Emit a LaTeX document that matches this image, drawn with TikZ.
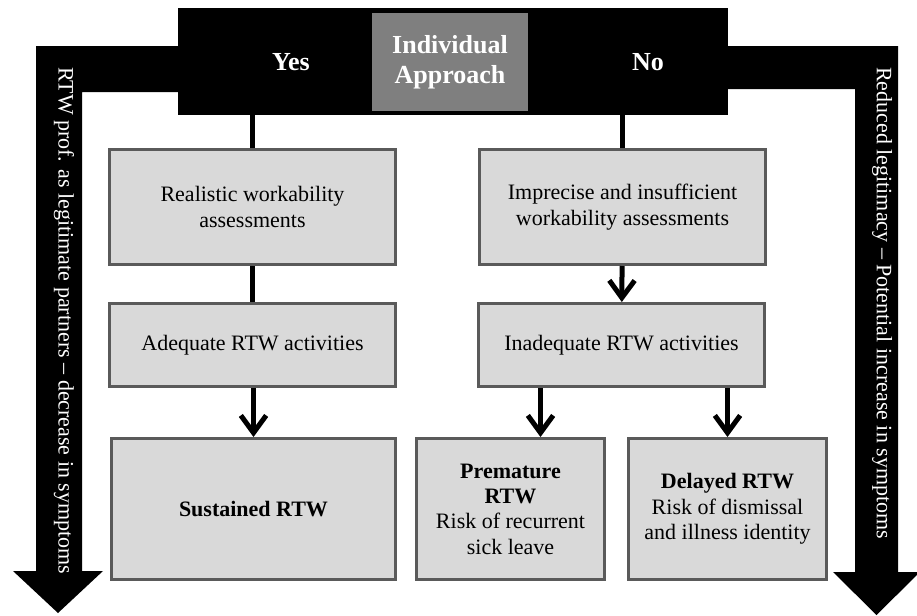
\documentclass[tikz,border=0pt]{standalone}
\usepackage{fontspec}
\setmainfont{Liberation Serif}
\usepackage{xcolor}
\usepackage{tikz}
\usetikzlibrary{arrows.meta,positioning,calc}
\definecolor{boxfill}{HTML}{D9D9D9}
\definecolor{boxline}{HTML}{5A5A5A}
\definecolor{midgray}{HTML}{7F7F7F}
\tikzset{
    every picture/.style={line join=miter},
    stagebox/.style={draw=boxline,fill=boxfill,line width=2.25pt,
      inner sep=2pt,align=center,font=\fontsize{16.5}{19}\selectfont},
    widebox/.style={stagebox,minimum width=214.5pt},
    headtext/.style={text=white,inner sep=0pt,align=center,
      font=\fontsize{19.5}{22.5}\selectfont\bfseries},
    sidetext/.style={text=white,inner sep=0pt,rotate=-90,anchor=west,
      font=\fontsize{16.5}{19}\selectfont},
    link/.style={draw=black,line width=3.75pt},
    flow/.style={link,-{Straight Barb[length=13pt,width=19pt]}},
    bigarrow/.style={fill=black,draw=none}
}
\begin{document}
\begin{tikzpicture}[x=0.75pt,y=-0.75pt]
  \useasboundingbox (0,0) rectangle (917,615);
  % side arrows, drawn below the header bar
  \path[bigarrow] (36,46) -- (190,46) -- (190,92) -- (82,92) -- (82,571)
    -- (103,571) -- (58,613) -- (13,571) -- (36,571) -- cycle;
  \path[bigarrow] (710,46) -- (898,46) -- (898,572) -- (920,572)
    -- (876.5,615) -- (833,572) -- (855,572) -- (855,89) -- (710,89) -- cycle;
  \node[sidetext] (good) at (64,67)
    {RTW prof. as legitimate partners -- decrease in symptoms};
  \node[sidetext] (bad) at (882,67)
    {Reduced legitimacy -- Potential increase in symptoms};

  \node[fill=black,minimum width=412.5pt,minimum height=80.25pt] (header) at (453,61.5) {};
  \node[fill=midgray,headtext,minimum width=117pt,minimum height=73.5pt] (approach) at (450,62)
    {Individual\\Approach};
  \node[headtext] (yes) at (291,62) {Yes};
  \node[headtext] (no) at (648,62) {No};

  \node[widebox,minimum height=86.25pt] (real) at (252.5,207)
    {Realistic workability\\assessments};
  \node[widebox,minimum height=62.25pt] (adeq) at (252.5,345)
    {Adequate RTW activities};
  \node[stagebox,minimum width=213pt,minimum height=105.75pt] (sust) at (253.5,509)
    {\textbf{Sustained RTW}};

  \node[widebox,minimum height=86.25pt] (impr) at (622.5,207)
    {Imprecise and insufficient\\workability assessments};
  \node[widebox,minimum height=62.25pt] (inad) at (621.5,345)
    {Inadequate RTW activities};
  \node[stagebox,minimum width=141pt,minimum height=105.75pt] (prem) at (510.5,509)
    {\textbf{Premature}\\\textbf{RTW}\\Risk of recurrent\\sick leave};
  \node[stagebox,minimum width=148.5pt,minimum height=105.75pt] (dela) at (727.5,509)
    {\textbf{Delayed RTW}\\Risk of dismissal\\and illness identity};

  \draw[link] (real.north |- header.south) -- (real.north);
  \draw[link] (real) -- (adeq);
  \draw[flow] (sust.north |- adeq.south) -- (sust.north);
  \draw[link] (impr.north |- header.south) -- (impr.north);
  \draw[flow] (impr) -- (inad);
  \path ($(prem.north)+(30,0)$) coordinate (premin);
  \draw[flow] (premin |- inad.south) -- (premin);
  \draw[flow] (dela.north |- inad.south) -- (dela.north);
\end{tikzpicture}
\end{document}
